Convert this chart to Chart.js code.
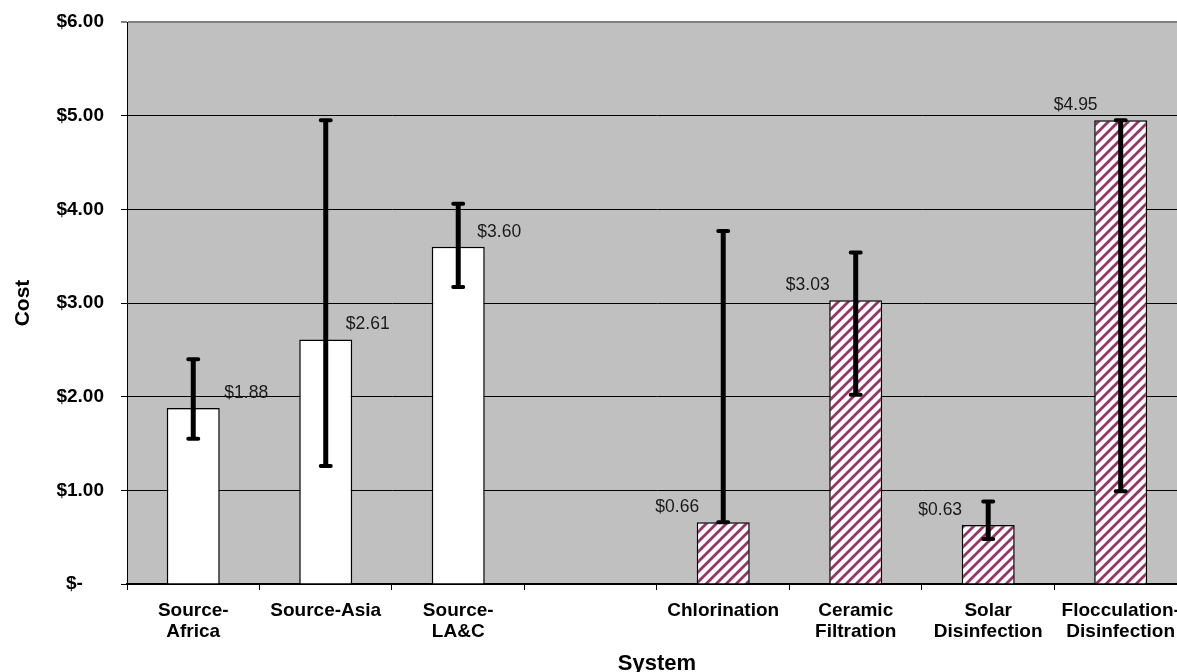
<!DOCTYPE html>
<html><head><meta charset="utf-8">
<script src="https://cdn.jsdelivr.net/npm/chart.js@4"></script>
<style>html,body{margin:0;padding:0;overflow:hidden;background:#fff;width:1177px;height:672px}canvas{display:block}</style>
</head><body>
<canvas id="c" width="1190" height="672"></canvas>
<script>
const categories = [['Source-','Africa'], 'Source-Asia', ['Source-','LA&C'], '', 'Chlorination', ['Ceramic','Filtration'], ['Solar','Disinfection'], ['Flocculation-','Disinfection']];
const costValues = [1.88, 2.61, 3.60, null, 0.66, 3.03, 0.63, 4.95];
const errorHigh = [2.40, 4.95, 4.06, null, 3.77, 3.54, 0.88, 4.95];
const errorLow = [1.55, 1.26, 3.17, null, 0.66, 2.02, 0.48, 0.99];
const valueLabels = ['$1.88', '$2.61', '$3.60', '', '$0.66', '$3.03', '$0.63', '$4.95'];
const yTickLabels = ['$-    ', '$1.00', '$2.00', '$3.00', '$4.00', '$5.00', '$6.00'];

const FONT = 'Liberation Sans, Arial, sans-serif';
const labelDx = [53, 42, 41, 0, -46, -48, -48, -45];
const labelDy = -15;

const canvas = document.getElementById('c');
const ctx = canvas.getContext('2d');

function makeHatch() {
  const n = 10;
  const t = document.createElement('canvas');
  t.width = n; t.height = n;
  const g = t.getContext('2d');
  g.fillStyle = '#ffffff';
  g.fillRect(0, 0, n, n);
  g.strokeStyle = '#993366';
  g.lineWidth = 2.8;
  g.beginPath();
  for (const o of [-n, 0, n]) { g.moveTo(o - 1, n + 1); g.lineTo(o + n + 1, -1); }
  g.stroke();
  return ctx.createPattern(t, 'repeat');
}
const hatch = makeHatch();

const extrasPlugin = {
  id: 'extras',
  afterDatasetsDraw(chart) {
    const c = chart.ctx;
    const meta = chart.getDatasetMeta(0);
    const ys = chart.scales.y;
    c.save();
    c.font = '17.5px ' + FONT;
    c.fillStyle = '#1a1a1a';
    c.textAlign = 'center';
    c.textBaseline = 'middle';
    meta.data.forEach((bar, i) => {
      if (costValues[i] == null) return;
      c.fillText(valueLabels[i], bar.x + labelDx[i], bar.y + labelDy);
    });
    c.strokeStyle = '#000';
    meta.data.forEach((bar, i) => {
      if (errorHigh[i] == null) return;
      const yt = ys.getPixelForValue(errorHigh[i]);
      const yb = ys.getPixelForValue(errorLow[i]);
      c.lineCap = 'butt';
      c.lineWidth = 5;
      c.beginPath(); c.moveTo(bar.x, yt); c.lineTo(bar.x, yb); c.stroke();
      c.lineCap = 'round';
      c.lineWidth = 4;
      c.beginPath();
      c.moveTo(bar.x - 5, yt); c.lineTo(bar.x + 5, yt);
      c.moveTo(bar.x - 5, yb); c.lineTo(bar.x + 5, yb);
      c.stroke();
    });
    c.restore();
  }
};

const plotBg = {
  id: 'plotBg',
  beforeDraw(chart) {
    const a = chart.chartArea;
    const c = chart.ctx;
    c.save();
    c.fillStyle = '#c0c0c0';
    c.fillRect(a.left, a.top, a.right - a.left, a.bottom - a.top);
    c.restore();
  }
};

new Chart(ctx, {
  type: 'bar',
  data: {
    labels: categories,
    datasets: [{
      data: costValues,
      backgroundColor: costValues.map((v, i) => i < 3 ? '#ffffff' : hatch),
      borderColor: '#000',
      borderWidth: 1.5,
      barPercentage: 0.4,
      categoryPercentage: 1.0
    }]
  },
  options: {
    responsive: false,
    devicePixelRatio: 1,
    animation: false,
    layout: { padding: { top: 22, right: 3, left: 0, bottom: 0 } },
    plugins: { legend: { display: false }, tooltip: { enabled: false } },
    scales: {
      x: {
        grid: { drawOnChartArea: false, drawTicks: true, tickLength: 6, color: '#000', offset: true },
        border: { color: '#000', width: 1.5 },
        ticks: { font: { family: FONT, size: 19, weight: 'bold', lineHeight: 1.13 }, color: '#000', padding: 10, maxRotation: 0, minRotation: 0, autoSkip: false },
        title: { display: true, text: 'System', color: '#000', font: { family: FONT, size: 22, weight: 'bold', lineHeight: 1.2 }, padding: { top: 0, bottom: -5 } },
        afterFit: s => { s.height = 88; }
      },
      y: {
        min: 0, max: 6,
        grid: {
          color: c => (c.tick && c.tick.value === 6) ? '#808080' : '#000',
          lineWidth: c => (c.tick && c.tick.value === 6) ? 2 : 1,
          tickLength: 6
        },
        border: { color: '#000', width: 1 },
        ticks: { stepSize: 1, font: { family: FONT, size: 19, weight: 'bold' }, color: '#000', padding: 17,
          callback: v => yTickLabels[Math.round(v)] },
        title: { display: true, text: 'Cost', color: '#000', font: { family: FONT, size: 21, weight: 'bold', lineHeight: 1.2 }, padding: { top: 11, bottom: 0 } },
        afterFit: s => { s.width = 127; s.paddingTop = 10; s.paddingBottom = 10; }
      }
    }
  },
  plugins: [plotBg, extrasPlugin]
});
</script>
</body></html>
